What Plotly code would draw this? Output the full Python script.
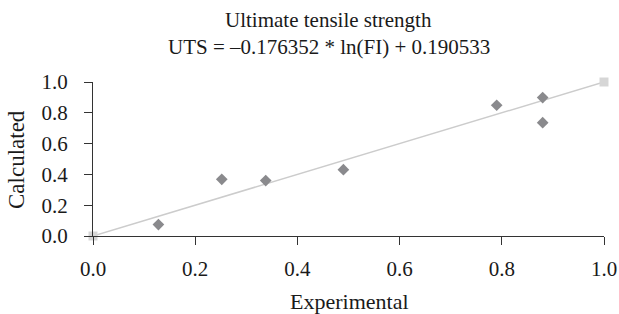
import plotly.graph_objects as go

experimental = [0.128, 0.252, 0.338, 0.490, 0.790, 0.880, 0.880]
calculated = [0.074, 0.368, 0.360, 0.431, 0.849, 0.899, 0.736]
ref_x = [0.0, 1.0]
ref_y = [0.0, 1.0]
tick_vals = [0.0, 0.2, 0.4, 0.6, 0.8, 1.0]
tick_text = ["0.0", "0.2", "0.4", "0.6", "0.8", "1.0"]

FONT = "Liberation Serif"
TXT = "#1a1a1a"
W, H = 619, 314
ML, MR, MT, MB = 93, 15, 82, 78
PW, PH = W - ML - MR, H - MT - MB


def px_x(px):
    return (px - ML) / PW


def px_y(py):
    return (H - MB - py) / PH


fig = go.Figure()
fig.add_trace(go.Scatter(x=ref_x, y=ref_y, mode="lines+markers",
                         line=dict(color="#cccccc", width=1.5),
                         marker=dict(symbol="square", size=9, color="#d6d6d6"),
                         cliponaxis=False, showlegend=False))
fig.add_trace(go.Scatter(x=experimental, y=calculated, mode="markers",
                         marker=dict(symbol="diamond", size=9, color="#8a8a8d"),
                         cliponaxis=False, showlegend=False))

axis_common = dict(showgrid=False, zeroline=False, showline=True, linecolor="#333333",
                   linewidth=1, ticks="outside", ticklen=8, tickcolor="#333333",
                   tickvals=tick_vals, ticktext=tick_text, ticklabeloverflow="allow",
                   automargin=False,
                   tickfont=dict(family=FONT, size=21, color=TXT))

fig.update_layout(
    width=W, height=H,
    margin=dict(l=ML, r=MR, t=MT, b=MB, autoexpand=False),
    paper_bgcolor="white", plot_bgcolor="white",
    xaxis=dict(range=[0, 1], ticklabelstandoff=6, **axis_common),
    yaxis=dict(range=[0, 1], ticklabelstandoff=12, **axis_common),
)

fig.add_annotation(text="Ultimate tensile strength", x=px_x(328), y=px_y(20),
                   xref="paper", yref="paper", xanchor="center", yanchor="middle",
                   showarrow=False, font=dict(family=FONT, size=21, color=TXT))
fig.add_annotation(text="UTS = \u20130.176352 * ln(FI) + 0.190533", x=px_x(329), y=px_y(47),
                   xref="paper", yref="paper", xanchor="center", yanchor="middle",
                   showarrow=False, font=dict(family=FONT, size=21, color=TXT))
fig.add_annotation(text="Experimental", x=px_x(349), y=px_y(301),
                   xref="paper", yref="paper", xanchor="center", yanchor="middle",
                   showarrow=False, font=dict(family=FONT, size=22, color=TXT))
fig.add_annotation(text="Calculated", x=px_x(16), y=px_y(160), textangle=-90,
                   xref="paper", yref="paper", xanchor="center", yanchor="middle",
                   showarrow=False, font=dict(family=FONT, size=23, color=TXT))

fig.write_html("out.html", config={"displayModeBar": False},
               post_script="document.body.style.margin='0px';")
